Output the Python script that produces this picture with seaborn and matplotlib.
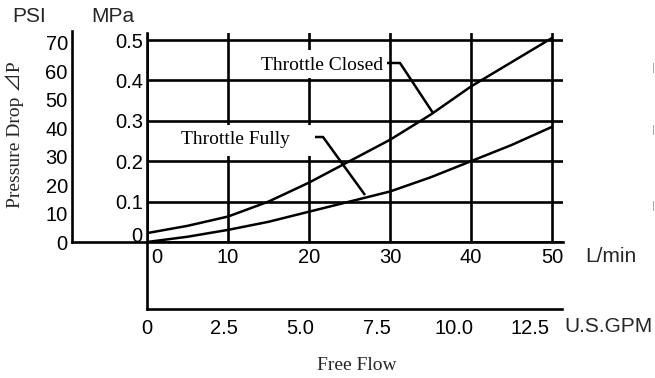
import matplotlib
matplotlib.use("Agg")
import matplotlib.pyplot as plt
import matplotlib.transforms as mtransforms
from matplotlib.patches import Rectangle
import pandas as pd
import seaborn as sns

# Flow rate (L/min) against pressure drop (MPa) for the two throttle settings
flow_lpm = [0, 5, 10, 15, 20, 25, 30, 35, 40, 45, 50]
closed_mpa = [0.022, 0.040, 0.063, 0.100, 0.147, 0.200, 0.253, 0.315, 0.385, 0.445, 0.505]
fully_mpa = [0.000, 0.013, 0.030, 0.050, 0.075, 0.100, 0.125, 0.160, 0.200, 0.240, 0.285]
series_names = ["Throttle Closed", "Throttle Fully"]

lpm_ticks = [0, 10, 20, 30, 40, 50]
lpm_labels = ["0", "10", "20", "30", "40", "50"]
mpa_ticks = [0, 0.1, 0.2, 0.3, 0.4, 0.5]
mpa_labels = ["0", "0.1", "0.2", "0.3", "0.4", "0.5"]
psi_ticks = [0, 10, 20, 30, 40, 50, 60, 70]
psi_labels = ["0", "10", "20", "30", "40", "50", "60", "70"]
gpm_ticks = [0, 2.5, 5.0, 7.5, 10.0, 12.5]
gpm_labels = ["0", "2.5", "5.0", "7.5", "10.0", "12.5"]

LPM_PER_GPM = 3.78541

sns.set_theme(style="white")
plt.rcParams["font.family"] = ["Liberation Sans", "DejaVu Sans"]
SERIF = ["Liberation Serif", "Noto Sans CJK JP", "DejaVu Sans"]

W, H = 655, 378
fig = plt.figure(figsize=(W / 100, H / 100), dpi=100)
fig.patch.set_facecolor("white")


def fx(px):
    return px / W


def fy(py):
    return 1 - py / H


# pixel geometry of the chart frame
X0, X1 = 147, 563          # left axis / right end of grid
Y0, Y1 = 242, 33           # baseline / top of grid
PX_PER_LPM = 8.1
PX_PER_MPA = 404.0
PX_PER_PSI = 2.843
LW = 1.9
FS = 14.5                  # tick numbers
FS_UNIT = 15               # unit captions
FS_SERIF = 14

x_max = (X1 - X0) / PX_PER_LPM
y_max = (Y0 - Y1) / PX_PER_MPA

# --- main chart (L/min vs MPa) ---
ax = fig.add_axes([fx(X0), fy(Y0), (X1 - X0) / W, (Y0 - Y1) / H])
ax.set_xlim(0, x_max)
ax.set_ylim(0, y_max)
ax.set_facecolor("none")
for side in ["top", "right"]:
    ax.spines[side].set_visible(False)
for side in ["left", "bottom"]:
    ax.spines[side].set_color("black")
    ax.spines[side].set_linewidth(LW)
ax.set_xticks(lpm_ticks)
ax.set_xticklabels(lpm_labels)
ax.set_yticks(mpa_ticks)
ax.set_yticklabels(mpa_labels)
ax.tick_params(axis="both", length=0, labelsize=FS, colors="black")
ax.tick_params(axis="x", pad=4)
ax.tick_params(axis="y", pad=3)
ax.grid(True, color="black", linewidth=LW)
ax.set_axisbelow(True)

df = pd.DataFrame({
    "flow": flow_lpm + flow_lpm,
    "dp": closed_mpa + fully_mpa,
    "series": [series_names[0]] * len(flow_lpm) + [series_names[1]] * len(flow_lpm),
})
sns.lineplot(data=df, x="flow", y="dp", hue="series", palette=["black", "black"],
             legend=False, ax=ax, linewidth=1.8, zorder=4)
ax.set_xlabel("")
ax.set_ylabel("")

# nudge the zero labels away from the corner
off = mtransforms.ScaledTranslation(0.10, 0, fig.dpi_scale_trans)
lab = ax.get_xticklabels()[0]
lab.set_transform(lab.get_transform() + off)
off_y = mtransforms.ScaledTranslation(0, 0.07, fig.dpi_scale_trans)
lab = ax.get_yticklabels()[0]
lab.set_transform(lab.get_transform() + off_y)


def to_data(px, py):
    return (px - X0) / PX_PER_LPM, (Y0 - py) / PX_PER_MPA


# white patches behind the callout texts
for (pa, pb, qa, qb) in [(258, 388, 50, 78), (178, 313, 125, 156)]:
    xa, yb = to_data(pa, qb)
    xb, ya = to_data(pb, qa)
    ax.add_patch(Rectangle((xa, yb), xb - xa, ya - yb, facecolor="white",
                           edgecolor="none", zorder=3))

# callouts with leader lines
tx, ty = to_data(322, 65)
ax.text(tx, ty, series_names[0], family=SERIF, fontsize=FS_SERIF, ha="center",
        va="center", color="black", zorder=5)
pts = [to_data(387, 63), to_data(400, 63), to_data(433, 113)]
ax.plot([p[0] for p in pts], [p[1] for p in pts], color="black", lw=1.8,
        zorder=5, solid_capstyle="butt")

tx, ty = to_data(235, 140)
ax.text(tx, ty, series_names[1], family=SERIF, fontsize=FS_SERIF, ha="center",
        va="center", color="black", zorder=5)
pts = [to_data(315, 137), to_data(323, 137), to_data(365, 195)]
ax.plot([p[0] for p in pts], [p[1] for p in pts], color="black", lw=1.8,
        zorder=5, solid_capstyle="butt")

# --- PSI scale on the far left ---
PX_PSI = 72
axp = fig.add_axes([fx(PX_PSI), fy(Y0), (X0 - PX_PSI) / W, (Y0 - Y1 + 2) / H])
axp.set_facecolor("none")
axp.set_ylim(0, (Y0 - Y1 + 2) / PX_PER_PSI)
axp.set_xlim(0, 1)
for side in ["top", "right"]:
    axp.spines[side].set_visible(False)
for side in ["left", "bottom"]:
    axp.spines[side].set_color("black")
    axp.spines[side].set_linewidth(LW)
axp.set_xticks([])
axp.set_yticks(psi_ticks)
axp.set_yticklabels(psi_labels)
axp.tick_params(axis="y", direction="in", length=21 * 0.72, width=LW,
                labelsize=FS, pad=3, colors="black")

# --- U.S.GPM scale underneath ---
Y_GPM = 309
axg = fig.add_axes([fx(X0), fy(Y_GPM), (X1 - 1 - X0) / W, (Y_GPM - Y0) / H])
axg.set_facecolor("none")
axg.set_xlim(0, (X1 - 1 - X0) / PX_PER_LPM / LPM_PER_GPM)
axg.set_ylim(0, 1)
for side in ["top", "right"]:
    axg.spines[side].set_visible(False)
for side in ["left", "bottom"]:
    axg.spines[side].set_color("black")
    axg.spines[side].set_linewidth(LW)
axg.set_yticks([])
axg.set_xticks(gpm_ticks)
axg.set_xticklabels(gpm_labels)
axg.tick_params(axis="x", direction="in", length=20 * 0.72, width=LW,
                labelsize=FS, pad=7, colors="black")

# --- axis titles and units ---
fig.text(fx(29), fy(17), "PSI", fontsize=FS_UNIT, ha="center", va="center")
fig.text(fx(113), fy(17), "MPa", fontsize=FS_UNIT, ha="center", va="center")
fig.text(fx(585), fy(256), "L/min", fontsize=FS_UNIT, ha="left", va="center")
fig.text(fx(564), fy(326), "U.S.GPM", fontsize=FS_UNIT, ha="left", va="center")
fig.text(fx(357), fy(365), "Free Flow", family=SERIF, fontsize=FS_SERIF,
         ha="center", va="center")
fig.text(fx(15), fy(135), "Pressure Drop \u22bfP", family=SERIF,
         fontsize=FS_SERIF, rotation=90, ha="center", va="center")

# faint marks at the right margin
for py in [68, 130, 206]:
    fig.text(fx(655), fy(py), "|", fontsize=8, color="#a0a0a0",
             ha="right", va="center")

fig.savefig("out.png", dpi=100, facecolor="white")
